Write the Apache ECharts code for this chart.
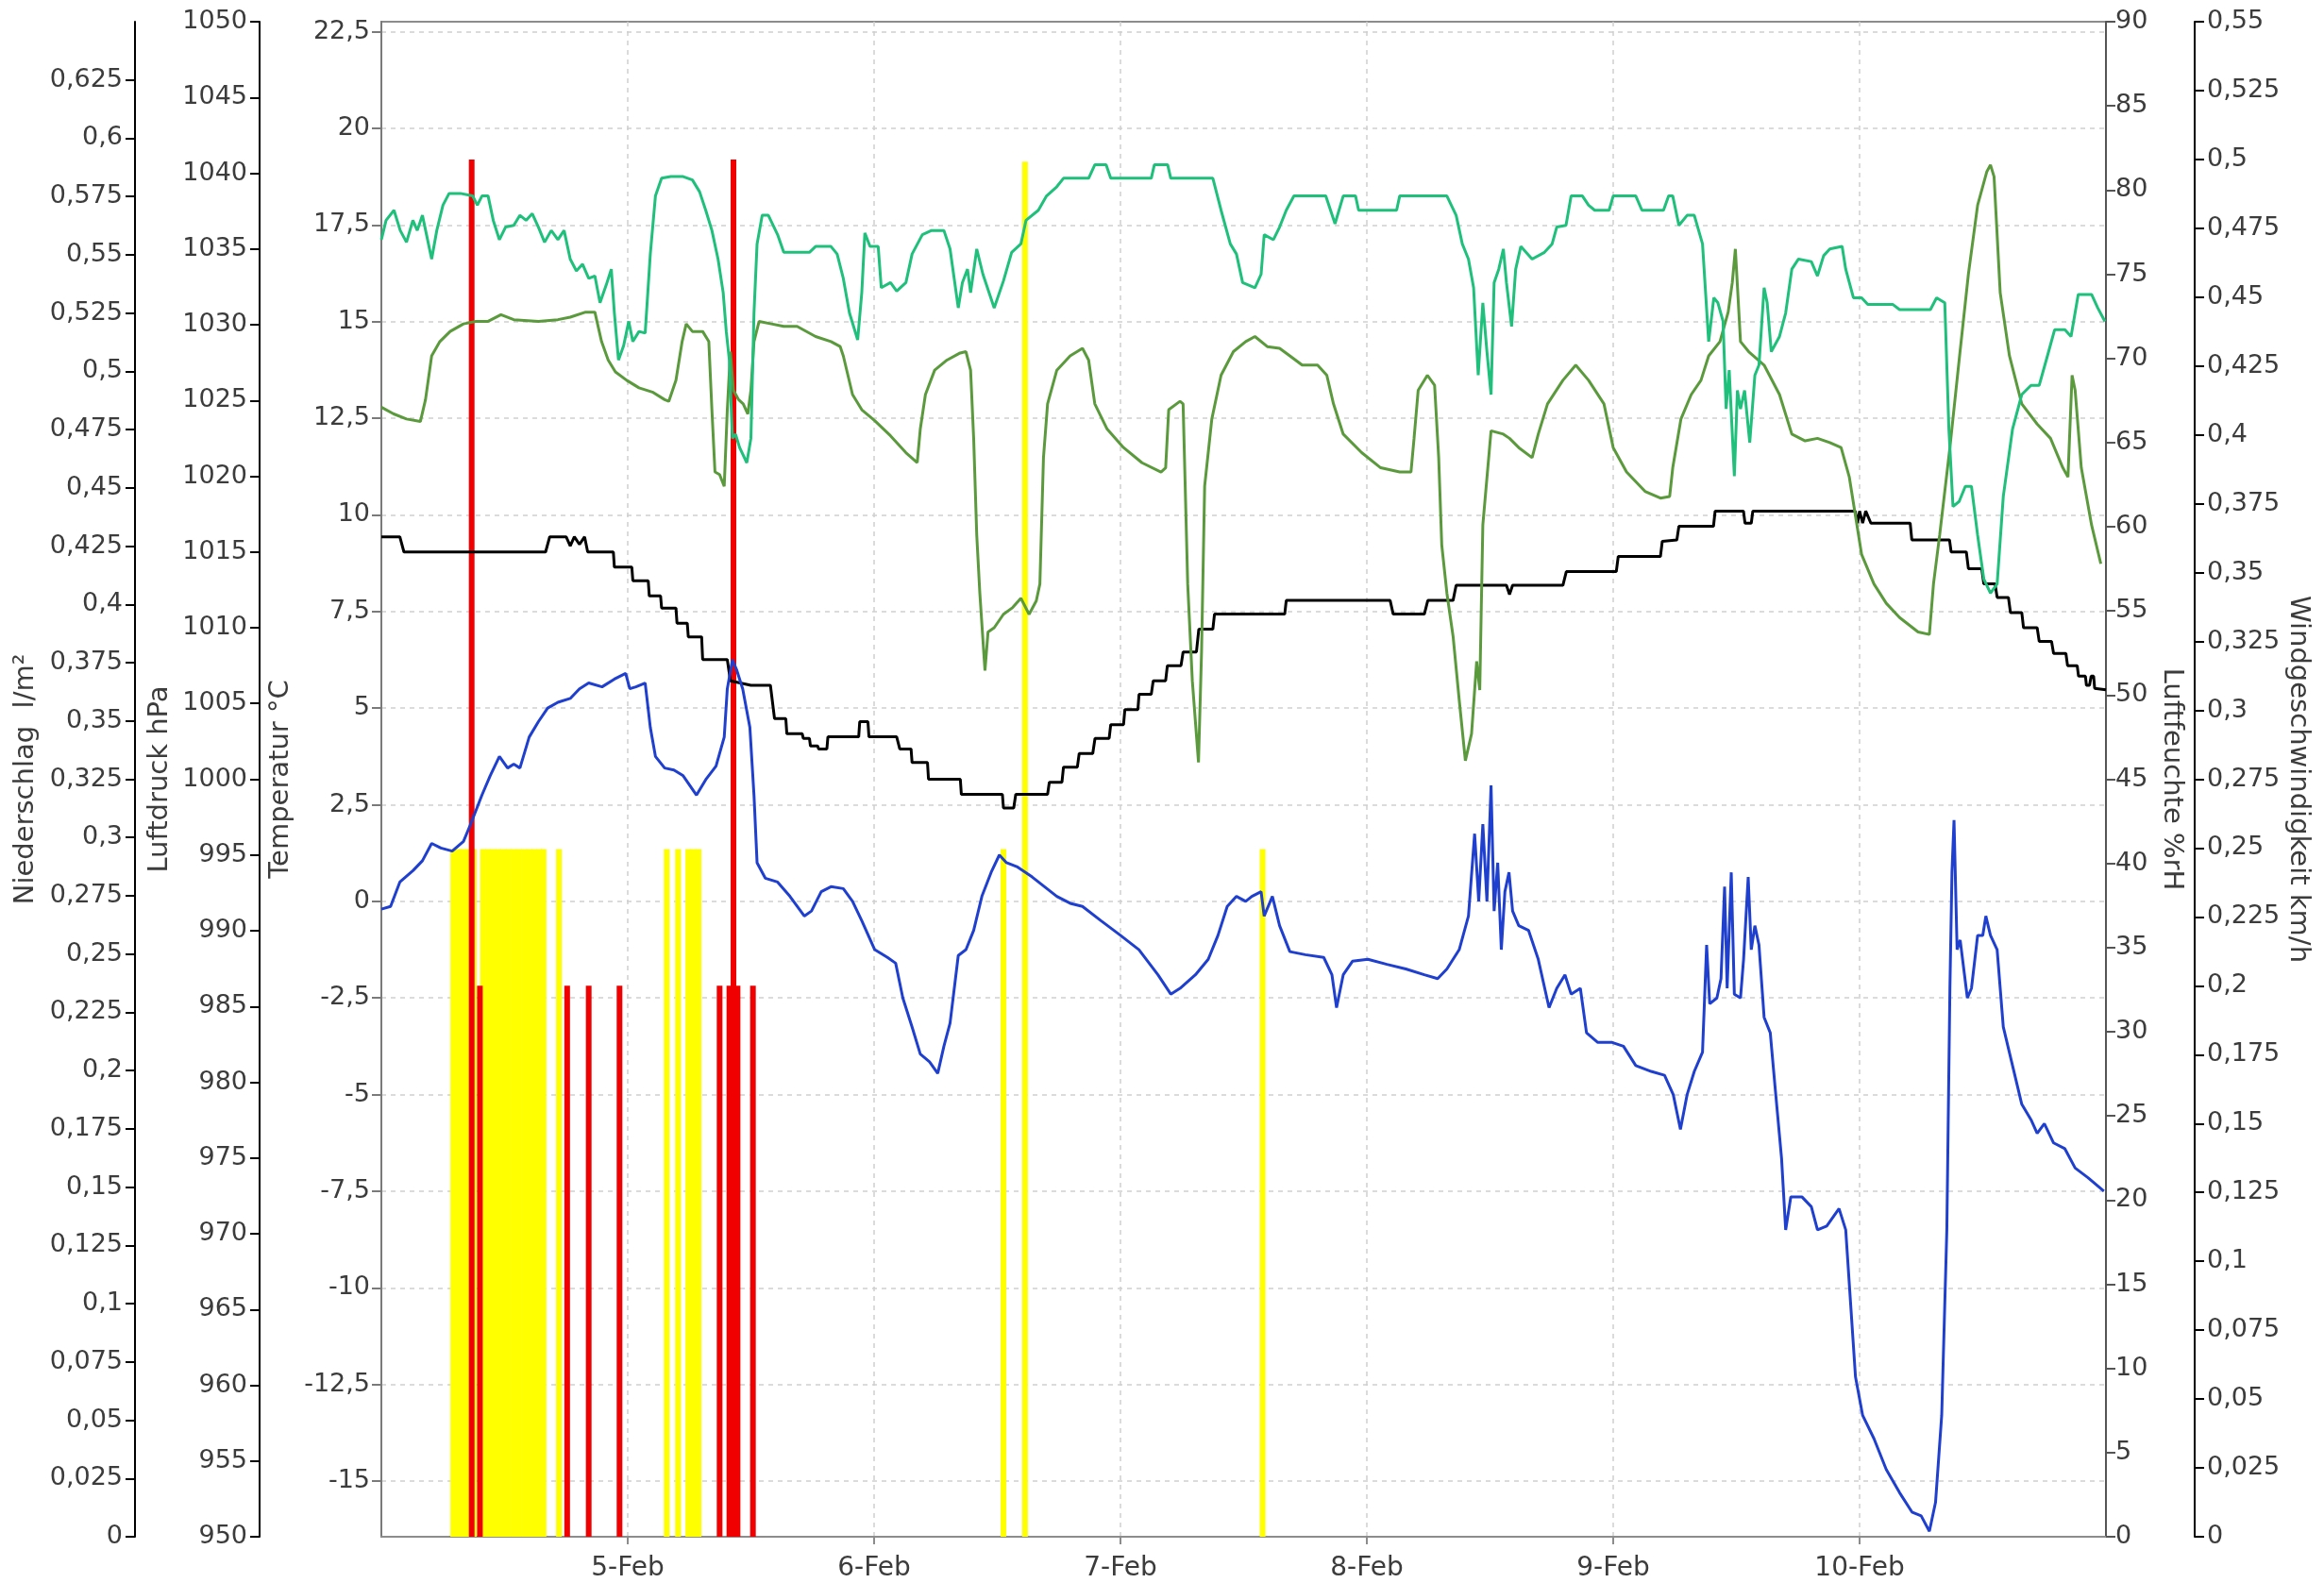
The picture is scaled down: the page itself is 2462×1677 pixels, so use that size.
<!DOCTYPE html>
<html><head><meta charset="utf-8">
<script src="https://cdn.jsdelivr.net/npm/echarts@6/dist/echarts.min.js"></script>
<style>html,body{margin:0;padding:0;background:#fff}#c{width:2462px;height:1677px}</style>
</head><body><div id="c"></div>
<script>
const dayLabels = ['4-Feb','5-Feb','6-Feb','7-Feb','8-Feb','9-Feb','10-Feb','11-Feb'];
const tempTicks = [-15,-12.5,-10,-7.5,-5,-2.5,0,2.5,5,7.5,10,12.5,15,17.5,20,22.5];

// hours since 4-Feb 00:00, value
const temperatur = [[0,-0.2],[0.9,-0.13],[1.8,0.5],[3.1,0.8],[4.0,1.05],[4.9,1.5],[5.8,1.38],[6.9,1.3],[8.0,1.55],[8.7,2.0],[9.8,2.75],[10.6,3.25],[11.5,3.75],[12.3,3.45],[12.9,3.55],[13.5,3.45],[14.4,4.25],[15.3,4.65],[16.2,5.0],[17.2,5.15],[18.4,5.25],[19.3,5.5],[20.2,5.65],[21.5,5.55],[22.7,5.75],[23.8,5.9],[24.2,5.5],[24.8,5.55],[25.7,5.65],[26.2,4.5],[26.7,3.75],[27.6,3.45],[28.5,3.4],[29.4,3.25],[30.7,2.75],[31.6,3.15],[32.6,3.5],[33.4,4.25],[33.7,5.5],[34.2,6.25],[34.6,6.0],[35.2,5.5],[35.9,4.5],[36.3,2.75],[36.6,1.0],[37.4,0.6],[38.6,0.5],[39.8,0.13],[41.2,-0.38],[41.9,-0.25],[42.85,0.25],[43.8,0.38],[45.0,0.33],[45.9,0.0],[46.8,-0.5],[48.06,-1.25],[49.3,-1.45],[50.1,-1.6],[50.8,-2.5],[51.7,-3.25],[52.5,-3.95],[53.4,-4.15],[54.2,-4.45],[54.8,-3.75],[55.4,-3.15],[56.2,-1.4],[56.95,-1.25],[57.7,-0.75],[58.5,0.13],[59.4,0.75],[60.2,1.2],[60.9,1.0],[61.9,0.9],[63.4,0.63],[64.6,0.38],[65.8,0.13],[67.1,-0.05],[68.3,-0.13],[70.1,-0.5],[72.0,-0.88],[73.8,-1.25],[75.65,-1.9],[76.9,-2.4],[77.8,-2.25],[79.3,-1.9],[80.55,-1.5],[81.5,-0.88],[82.4,-0.13],[83.3,0.13],[84.2,0.0],[84.8,0.13],[85.7,0.25],[86.0,-0.38],[86.8,0.13],[87.5,-0.63],[88.5,-1.3],[90.0,-1.38],[91.8,-1.45],[92.6,-1.9],[93.05,-2.75],[93.7,-1.9],[94.6,-1.55],[96.1,-1.5],[97.96,-1.63],[99.8,-1.75],[101.6,-1.9],[102.9,-2.0],[103.8,-1.75],[105.0,-1.25],[105.9,-0.38],[106.5,1.75],[106.9,0.0],[107.3,2.0],[107.7,0.0],[108.1,3.0],[108.4,-0.25],[108.75,1.0],[109.1,-1.25],[109.45,0.25],[109.85,0.75],[110.2,-0.25],[110.8,-0.63],[111.75,-0.75],[112.7,-1.5],[113.75,-2.75],[114.5,-2.25],[115.3,-1.9],[115.9,-2.4],[116.8,-2.25],[117.4,-3.4],[118.5,-3.65],[119.9,-3.65],[121.0,-3.75],[122.2,-4.25],[123.7,-4.4],[125.0,-4.5],[125.85,-5.0],[126.55,-5.9],[127.2,-5.0],[127.9,-4.4],[128.7,-3.9],[129.1,-1.13],[129.4,-2.65],[130.1,-2.5],[130.5,-2.0],[130.85,0.38],[131.1,-2.25],[131.5,0.75],[131.8,-2.4],[132.4,-2.5],[132.7,-1.5],[133.15,0.63],[133.45,-1.25],[133.8,-0.63],[134.2,-1.13],[134.7,-3.0],[135.3,-3.4],[135.75,-4.75],[136.4,-6.65],[136.8,-8.5],[137.3,-7.65],[138.4,-7.65],[139.3,-7.9],[139.9,-8.5],[140.8,-8.4],[142.0,-7.95],[142.65,-8.5],[143.1,-10.3],[143.6,-12.3],[144.3,-13.3],[145.4,-13.9],[146.6,-14.7],[147.9,-15.3],[149.1,-15.8],[150.0,-15.9],[150.8,-16.3],[151.4,-15.55],[152.0,-13.3],[152.5,-8.5],[152.8,-2.25],[153.0,0.75],[153.2,2.1],[153.5,-1.25],[153.8,-1.0],[154.5,-2.5],[154.9,-2.25],[155.5,-0.88],[156.0,-0.88],[156.3,-0.38],[156.75,-0.88],[157.4,-1.25],[158.0,-3.25],[158.9,-4.25],[159.8,-5.25],[160.7,-5.65],[161.3,-6.0],[162.0,-5.75],[162.9,-6.25],[164.0,-6.4],[165.0,-6.9],[166.25,-7.15],[167.8,-7.5]];

const luftdruck = [[0,1016],[1.8,1016],[2.2,1015],[16.0,1015],[16.4,1016],[18.0,1016],[18.4,1015.4],[18.8,1016],[19.3,1015.5],[19.8,1016],[20.1,1015],[22.6,1015],[22.7,1014],[24.4,1014],[24.5,1013.1],[26.0,1013.1],[26.1,1012.1],[27.2,1012.1],[27.3,1011.3],[28.7,1011.3],[28.8,1010.3],[29.8,1010.3],[29.9,1009.4],[31.2,1009.4],[31.3,1007.9],[33.7,1007.9],[34.0,1006.5],[36.0,1006.2],[37.9,1006.2],[38.3,1004],[39.4,1004],[39.5,1003],[41.0,1003],[41.1,1002.7],[41.7,1002.7],[41.8,1002.2],[42.5,1002.2],[42.6,1002],[43.4,1002],[43.5,1002.8],[46.5,1002.8],[46.6,1003.8],[47.4,1003.8],[47.5,1002.8],[50.2,1002.8],[50.5,1002],[51.6,1002],[51.7,1001.1],[53.2,1001.1],[53.3,1000],[56.4,1000],[56.5,999],[60.5,999],[60.6,998.1],[61.6,998.1],[61.8,999],[64.9,999],[65.07,999.8],[66.3,999.8],[66.45,1000.8],[67.8,1000.8],[67.98,1001.7],[69.3,1001.7],[69.52,1002.7],[70.9,1002.7],[71.05,1003.6],[72.3,1003.6],[72.43,1004.6],[73.7,1004.6],[73.81,1005.6],[75.0,1005.6],[75.19,1006.5],[76.4,1006.5],[76.57,1007.5],[77.9,1007.5],[78.1,1008.4],[79.4,1008.4],[79.63,1009.9],[81.0,1009.9],[81.16,1010.9],[88.0,1010.9],[88.15,1011.8],[98.27,1011.8],[98.57,1010.9],[101.6,1010.9],[101.94,1011.8],[104.4,1011.8],[104.7,1012.8],[109.6,1012.8],[109.9,1012.2],[110.2,1012.8],[115.1,1012.8],[115.43,1013.7],[120.3,1013.7],[120.49,1014.7],[124.6,1014.7],[124.78,1015.7],[126.2,1015.8],[126.4,1016.7],[129.77,1016.7],[129.93,1017.7],[132.69,1017.7],[132.84,1016.9],[133.45,1016.9],[133.6,1017.7],[143.57,1017.7],[143.8,1016.9],[144.0,1017.7],[144.3,1016.9],[144.6,1017.7],[145.1,1016.9],[148.93,1016.9],[149.09,1015.8],[152.76,1015.8],[152.92,1015],[154.4,1015],[154.6,1013.9],[155.9,1013.9],[156.1,1012.9],[157.2,1012.9],[157.4,1012],[158.5,1012],[158.7,1011],[159.8,1011],[159.97,1010],[161.3,1010],[161.5,1009.1],[162.7,1009.1],[162.9,1008.3],[164.1,1008.3],[164.26,1007.5],[165.2,1007.5],[165.33,1006.8],[166.0,1006.8],[166.1,1006.2],[166.4,1006.2],[166.56,1006.8],[166.8,1006.8],[166.9,1006],[168,1005.9]];

const feuchteAussen = [[0,77.05],[0.46,78.2],[1.23,78.8],[1.84,77.6],[2.45,76.9],[3.07,78.2],[3.5,77.6],[4.0,78.5],[4.4,77.35],[4.9,75.9],[5.4,77.6],[6.0,79.1],[6.6,79.8],[7.7,79.8],[8.9,79.65],[9.35,79.1],[9.8,79.65],[10.4,79.65],[10.9,78.2],[11.5,77.05],[12.1,77.8],[12.9,77.9],[13.5,78.5],[14.1,78.2],[14.7,78.6],[15.3,77.8],[15.9,76.9],[16.55,77.6],[17.2,77.05],[17.8,77.6],[18.4,75.9],[19.0,75.2],[19.6,75.6],[20.2,74.75],[20.8,74.9],[21.3,73.3],[21.9,74.35],[22.4,75.3],[22.7,72.7],[23.1,69.9],[23.6,70.75],[24.1,72.2],[24.5,71.0],[25.1,71.6],[25.7,71.5],[26.2,76.2],[26.7,79.65],[27.3,80.7],[28.2,80.8],[29.4,80.8],[30.3,80.6],[31.0,79.9],[31.6,78.8],[32.2,77.6],[32.8,75.9],[33.3,73.9],[33.6,71.6],[33.9,69.9],[34.2,65.25],[34.5,65.5],[34.9,64.7],[35.6,63.8],[36.0,65.25],[36.3,72.7],[36.6,76.8],[37.1,78.5],[37.7,78.5],[38.6,77.35],[39.2,76.3],[40.5,76.3],[41.7,76.3],[42.3,76.65],[42.85,76.65],[43.8,76.65],[44.4,76.2],[45.0,74.75],[45.6,72.7],[46.4,71.1],[46.8,73.9],[47.1,77.45],[47.6,76.65],[48.4,76.65],[48.7,74.2],[49.6,74.5],[50.2,74.0],[51.1,74.5],[51.7,76.2],[52.7,77.35],[53.6,77.6],[54.8,77.6],[55.4,76.5],[56.2,73.0],[56.6,74.5],[57.1,75.3],[57.4,73.9],[58.0,76.5],[58.6,75.0],[59.7,73.0],[60.6,74.6],[61.4,76.3],[62.3,76.8],[62.8,78.2],[64.0,78.8],[64.8,79.65],[65.8,80.2],[66.45,80.7],[68.9,80.7],[69.5,81.5],[70.6,81.5],[71.05,80.7],[75.0,80.7],[75.3,81.5],[76.6,81.5],[76.9,80.7],[81.0,80.7],[81.8,78.8],[82.7,76.8],[83.3,76.2],[83.9,74.5],[84.5,74.35],[85.1,74.2],[85.7,75.0],[86.0,77.35],[86.9,77.05],[87.5,77.8],[88.15,78.8],[88.9,79.65],[92.0,79.65],[92.9,78.0],[93.7,79.65],[94.9,79.65],[95.2,78.8],[98.9,78.8],[99.2,79.65],[103.8,79.65],[104.7,78.5],[105.3,76.8],[105.9,75.9],[106.4,74.2],[106.85,69.0],[107.3,73.3],[107.7,70.4],[108.1,67.85],[108.4,74.5],[108.85,75.3],[109.3,76.5],[109.6,74.5],[110.1,71.9],[110.5,75.3],[111.0,76.65],[112.1,75.9],[113.3,76.3],[114.05,76.8],[114.5,77.8],[115.4,77.9],[115.9,79.65],[117.0,79.65],[117.6,79.1],[118.2,78.8],[119.6,78.8],[120.0,79.65],[122.2,79.65],[122.8,78.8],[124.9,78.8],[125.4,79.65],[125.8,79.65],[126.4,77.9],[127.2,78.5],[127.9,78.5],[128.7,76.8],[129.3,71.0],[129.8,73.6],[130.2,73.3],[130.7,72.2],[131.0,67.0],[131.3,69.3],[131.8,63.0],[132.1,68.1],[132.4,67.0],[132.8,68.1],[133.3,65.0],[133.8,69.0],[134.2,69.6],[134.7,74.2],[135.0,73.3],[135.4,70.4],[136.2,71.3],[136.8,72.7],[137.4,75.3],[138.05,75.9],[139.3,75.75],[139.9,74.9],[140.5,76.1],[141.1,76.5],[142.3,76.65],[142.65,75.3],[143.4,73.6],[144.2,73.6],[144.8,73.2],[147.25,73.2],[147.9,72.9],[150.9,72.9],[151.5,73.6],[152.3,73.3],[152.7,65.8],[153.1,61.2],[153.7,61.5],[154.3,62.4],[154.9,62.4],[155.5,59.5],[156.1,56.9],[156.75,56.05],[157.4,56.6],[158.0,61.8],[158.9,65.8],[159.8,67.85],[160.7,68.4],[161.5,68.4],[162.3,70.15],[163.0,71.7],[164.0,71.7],[164.6,71.3],[165.3,73.8],[166.6,73.8],[167.2,73.0],[167.9,72.2]];

const feuchteInnen = [[0,67.1],[1.2,66.7],[2.45,66.4],[3.8,66.25],[4.3,67.55],[4.9,70.15],[5.7,71.0],[6.7,71.6],[8.0,72.05],[9.2,72.2],[10.4,72.2],[11.65,72.6],[12.9,72.3],[15.3,72.2],[17.2,72.3],[18.4,72.45],[19.9,72.75],[20.8,72.75],[21.45,71.0],[22.1,69.9],[22.8,69.2],[23.9,68.7],[25.1,68.25],[26.4,68.0],[27.6,67.55],[28.0,67.45],[28.7,68.7],[29.3,71.0],[29.7,72.05],[30.3,71.6],[31.3,71.6],[31.9,71.0],[32.2,66.95],[32.5,63.25],[32.95,63.1],[33.4,62.4],[33.7,66.95],[34.0,70.4],[34.3,68.1],[34.8,67.55],[35.25,67.3],[35.7,66.7],[36.0,68.1],[36.3,71.0],[36.8,72.2],[38.0,72.05],[39.2,71.9],[40.5,71.9],[42.3,71.3],[43.8,71.0],[44.7,70.7],[45.0,70.15],[45.9,67.85],[46.8,66.95],[48.06,66.3],[49.6,65.4],[51.1,64.4],[52.2,63.8],[52.5,65.8],[53.0,67.85],[53.9,69.3],[55.1,69.9],[56.3,70.3],[56.95,70.4],[57.4,69.3],[57.7,65.25],[58.0,59.5],[58.3,56.05],[58.8,51.45],[59.1,53.75],[59.7,54.0],[60.6,54.8],[61.5,55.2],[62.3,55.75],[63.1,54.8],[63.8,55.6],[64.15,56.6],[64.5,64.1],[64.9,67.3],[65.8,69.3],[67.1,70.15],[68.3,70.6],[68.9,69.9],[69.5,67.3],[70.7,65.8],[72.3,64.7],[74.1,63.8],[75.95,63.25],[76.4,63.5],[76.7,66.95],[77.8,67.45],[78.1,67.3],[78.55,56.6],[79.0,50.85],[79.6,46.0],[79.9,52.6],[80.2,62.4],[80.9,66.4],[81.8,69.0],[83.0,70.4],[84.2,71.0],[85.1,71.3],[86.3,70.7],[87.5,70.6],[88.5,70.15],[89.7,69.6],[91.2,69.6],[92.1,69.0],[92.75,67.3],[93.7,65.5],[95.5,64.4],[97.35,63.5],[99.2,63.25],[100.3,63.25],[100.6,65.25],[101.0,68.1],[101.9,69.0],[102.6,68.4],[103.0,64.1],[103.3,58.9],[103.8,56.05],[104.4,53.5],[105.0,49.7],[105.6,46.1],[106.2,47.7],[106.7,52.0],[107.0,50.3],[107.3,60.1],[108.1,65.7],[109.3,65.5],[109.9,65.25],[110.8,64.7],[112.1,64.1],[112.7,65.5],[113.6,67.3],[115.1,68.7],[116.35,69.6],[117.6,68.7],[119.1,67.3],[120.0,64.7],[121.3,63.25],[123.1,62.1],[124.6,61.7],[125.5,61.8],[125.8,63.5],[126.6,66.4],[127.6,67.85],[128.55,68.7],[129.3,70.15],[130.4,71.0],[131.2,72.75],[131.6,74.5],[131.9,76.5],[132.4,71.0],[133.2,70.4],[134.7,69.6],[136.2,67.85],[137.4,65.5],[138.7,65.1],[139.9,65.25],[141.1,65.0],[142.2,64.7],[143.0,62.95],[143.6,60.65],[144.2,58.35],[145.4,56.6],[146.6,55.45],[147.9,54.6],[149.7,53.75],[150.8,53.6],[151.2,56.6],[151.8,59.5],[152.8,64.7],[153.7,69.9],[154.6,75.0],[155.5,79.1],[156.4,81.1],[156.75,81.5],[157.1,80.8],[157.7,73.9],[158.6,70.15],[159.8,67.3],[161.3,66.1],[162.6,65.25],[163.8,63.5],[164.3,62.95],[164.7,69.0],[165.0,68.1],[165.6,63.5],[166.6,60.1],[167.5,57.8]];

const niederschlag = [[7.0,0.295],[7.5,0.295],[8.0,0.295],[8.5,0.295],[9.0,0.295],[9.9,0.295],[10.4,0.295],[10.9,0.295],[11.4,0.295],[11.9,0.295],[12.4,0.295],[12.9,0.295],[13.4,0.295],[13.9,0.295],[14.4,0.295],[14.9,0.295],[15.4,0.295],[15.8,0.295],[17.3,0.295],[27.8,0.295],[28.9,0.295],[29.9,0.295],[30.4,0.295],[30.9,0.295],[60.6,0.295],[62.7,0.59],[85.85,0.295]];

const wind = [[8.8,0.5],[9.6,0.2],[18.1,0.2],[20.2,0.2],[23.2,0.2],[32.95,0.2],[33.9,0.2],[34.3,0.5],[34.7,0.2],[36.2,0.2]];

const FONT = 'DejaVu Sans';
const TXT = '#3c3c3c';
function de(v){ return String(Math.round(v*1000)/1000).replace('.', ','); }

function yAx(o){
  const lc = o.lineColor || '#000';
  return Object.assign({
    type:'value', nameLocation:'middle', nameMoveOverlap:false,
    nameTextStyle:{fontFamily:FONT, fontSize:29, color:TXT},
    axisLine:{show:true, onZero:false, lineStyle:{color:lc, width:2}},
    axisTick:{show:true, length:10, inside:false, lineStyle:{color:lc, width:2}},
    axisLabel:{show:true, fontFamily:FONT, fontSize:27, color:TXT, margin:13, formatter:de},
    splitLine:{show:false}
  }, o.opt);
}

const chart = echarts.init(document.getElementById('c'), null, {renderer:'canvas'});
chart.setOption({
  animation:false,
  backgroundColor:'#ffffff',
  grid:{left:404, right:231, top:23, bottom:49, show:true, borderColor:'#8c8c8c', borderWidth:2, containLabel:false, outerBoundsMode:'none'},
  xAxis:{
    type:'value', min:0, max:168, interval:24,
    axisLine:{show:true, onZero:false, lineStyle:{color:'#8c8c8c', width:2}},
    axisTick:{show:true, length:8, lineStyle:{color:'#8c8c8c', width:2}},
    axisLabel:{fontFamily:FONT, fontSize:28, color:TXT, margin:20, showMinLabel:false, showMaxLabel:false,
      formatter:v => dayLabels[Math.round(v/24)]},
    splitLine:{show:true, lineStyle:{color:'#cfcfcf', width:1.5, type:[5,5]}}
  },
  yAxis:[
    yAx({opt:{position:'left', offset:261, min:0, max:0.65, interval:0.025,
      name:'Niederschlag  l/m²', nameRotate:90, nameGap:101,
      axisLabel:{fontFamily:FONT, fontSize:27, color:TXT, margin:13, formatter:de, showMaxLabel:false}}}),
    yAx({opt:{position:'left', offset:129, min:950, max:1050, interval:5,
      name:'Luftdruck hPa', nameRotate:90, nameGap:91}}),
    yAx({lineColor:'#7a7a7a', opt:{position:'left', offset:0, min:-16.44, max:22.76,
      name:'Temperatur °C', nameRotate:90, nameGap:92,
      axisTick:{show:true, length:10, customValues:tempTicks, lineStyle:{color:'#7a7a7a', width:2}},
      axisLabel:{fontFamily:FONT, fontSize:27, color:TXT, margin:12, formatter:de, customValues:tempTicks},
      splitLine:{show:true, lineStyle:{color:'#cfcfcf', width:1.5, type:[5,5]}}}}),
    yAx({lineColor:'#555', opt:{position:'right', offset:0, min:0, max:90, interval:5,
      name:'Luftfeuchte %rH', nameRotate:-90, nameGap:55,
      axisLabel:{fontFamily:FONT, fontSize:27, color:TXT, margin:10, formatter:de}}}),
    yAx({opt:{position:'right', offset:94, min:0, max:0.55, interval:0.025,
      name:'Windgeschwindigkeit km/h', nameRotate:-90, nameGap:95}})
  ],
  series:[
    {type:'bar', name:'Niederschlag', yAxisIndex:0, data:niederschlag, barWidth:6, barGap:'-100%', itemStyle:{color:'#ffff00'}, z:1},
    {type:'bar', name:'Windgeschwindigkeit', yAxisIndex:4, data:wind, barWidth:6, barGap:'-100%', itemStyle:{color:'#f00000'}, z:2},
    {type:'line', name:'Luftdruck', yAxisIndex:1, data:luftdruck, symbol:'none', lineStyle:{color:'#000000', width:3}, z:3},
    {type:'line', name:'Luftfeuchte innen', yAxisIndex:3, data:feuchteInnen, symbol:'none', lineStyle:{color:'#5b9a3c', width:3}, z:4},
    {type:'line', name:'Luftfeuchte', yAxisIndex:3, data:feuchteAussen, symbol:'none', lineStyle:{color:'#1fbf7c', width:3}, z:5},
    {type:'line', name:'Temperatur', yAxisIndex:2, data:temperatur, symbol:'none', lineStyle:{color:'#1f3fcf', width:3}, z:6}
  ]
});
</script>
</body></html>
